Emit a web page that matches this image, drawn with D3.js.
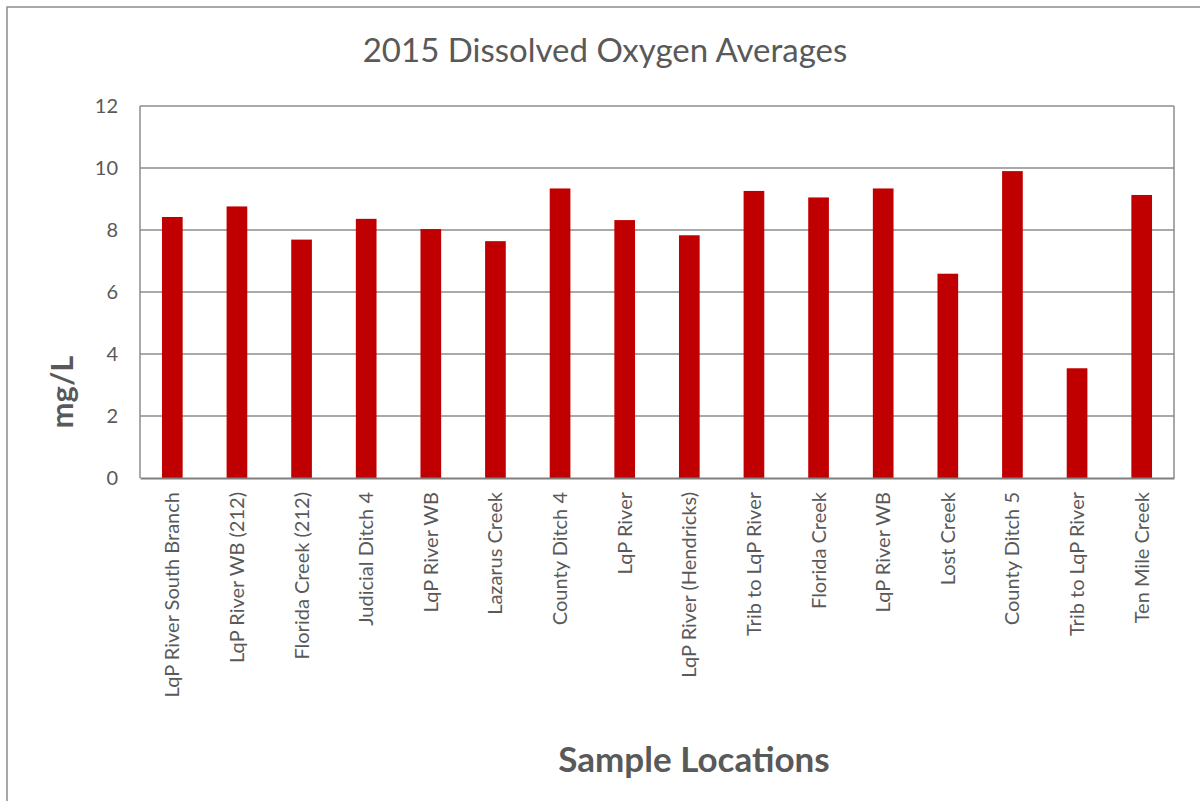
<!DOCTYPE html>
<html>
<head>
<meta charset="utf-8">
<script src="https://cdn.jsdelivr.net/npm/d3@7"></script>
<style>
  body { margin: 0; background: #fff; }
  svg { display: block; }
</style>
</head>
<body>
<div id="chart"></div>
<script>
// data
var locations = ["LqP River South Branch", "LqP River WB (212)", "Florida Creek (212)", "Judicial Ditch 4",
  "LqP River WB", "Lazarus Creek", "County Ditch 4", "LqP River", "LqP River (Hendricks)",
  "Trib to LqP River", "Florida Creek", "LqP River WB", "Lost Creek", "County Ditch 5",
  "Trib to LqP River", "Ten Mile Creek"];
var doValues = [8.42, 8.76, 7.69, 8.36, 8.03, 7.64, 9.34, 8.32, 7.83, 9.26, 9.05, 9.34, 6.59, 9.90, 3.54, 9.13];
var yTicks = [0, 2, 4, 6, 8, 10, 12];

var w = 1200, h = 801;
var plotL = 140, plotR = 1174, plotT = 106, plotB = 478;
var font = "Lato, 'Open Sans', sans-serif";
var textCol = "#595959";

const svg = d3.select("#chart").append("svg")
  .attr("width", w)
  .attr("height", h);

//OUTER CHART BORDER (right and bottom run off the picture)
svg.append("rect")
  .attr("x", 7).attr("y", 7)
  .attr("width", w + 20).attr("height", h + 20)
  .attr("fill", "none")
  .attr("stroke", "#8c8c8c")
  .attr("stroke-width", 1.5);

// keys by index since some names repeat
var x = d3.scaleBand()
  .domain(d3.range(locations.length))
  .range([plotL, plotR])
  .paddingInner(0.68)
  .paddingOuter(0.34);

var y = d3.scaleLinear()
  .domain([0, 12])
  .range([plotB, plotT]);

//GRIDLINES
svg.append("g")
  .selectAll("line")
  .data(yTicks.filter(function(d){ return d > 0; }))
  .join("line")
  .attr("x1", plotL).attr("x2", plotR)
  .attr("y1", function(d){ return y(d); })
  .attr("y2", function(d){ return y(d); })
  .attr("stroke", "#8c8c8c")
  .attr("stroke-width", 1.5);

//SIDE BORDERS OF THE PLOT
svg.append("line")
  .attr("x1", plotL).attr("x2", plotL)
  .attr("y1", plotT).attr("y2", plotB)
  .attr("stroke", "#8c8c8c").attr("stroke-width", 1.5);
svg.append("line")
  .attr("x1", plotR).attr("x2", plotR)
  .attr("y1", plotT).attr("y2", plotB)
  .attr("stroke", "#8c8c8c").attr("stroke-width", 1.5);

//BARS
svg.append("g")
  .selectAll("rect")
  .data(doValues)
  .join("rect")
  .attr("x", function(d, i){ return x(i); })
  .attr("y", function(d){ return y(d); })
  .attr("width", x.bandwidth())
  .attr("height", function(d){ return y(0) - y(d); })
  .attr("fill", "#c00000");

//Y AXIS
var yAxis = svg.append("g")
  .attr("transform", "translate(" + plotL + ",0)")
  .call(d3.axisLeft(y).tickValues(yTicks).tickSize(0).tickPadding(22));
yAxis.select(".domain").remove();
yAxis.selectAll("text")
  .attr("font-family", font)
  .attr("font-size", 20)
  .attr("fill", textCol);

//X AXIS
var xAxis = svg.append("g")
  .attr("transform", "translate(0," + plotB + ")")
  .call(d3.axisBottom(x).tickSize(0).tickFormat(function(i){ return locations[i]; }));
xAxis.select(".domain")
  .attr("stroke", "#7f7f7f")
  .attr("stroke-width", 2);
xAxis.selectAll("text")
  .attr("font-family", font)
  .attr("font-size", 20)
  .attr("fill", textCol)
  .attr("text-anchor", "end")
  .attr("dy", "0.35em")
  .attr("transform", "translate(0,14) rotate(-90)")
  .attr("y", 0)
  .attr("x", 0);

//TITLES
svg.append("text")
  .attr("x", 605).attr("y", 62)
  .attr("text-anchor", "middle")
  .attr("font-family", font)
  .attr("font-size", 33)
  .attr("fill", textCol)
  .text("2015 Dissolved Oxygen Averages");

svg.append("text")
  .attr("transform", "translate(73,392) rotate(-90)")
  .attr("text-anchor", "middle")
  .attr("font-family", font)
  .attr("font-size", 31)
  .attr("font-weight", "bold")
  .attr("fill", textCol)
  .text("mg/L");

svg.append("text")
  .attr("x", 694).attr("y", 772)
  .attr("text-anchor", "middle")
  .attr("font-family", font)
  .attr("font-size", 35)
  .attr("font-weight", "bold")
  .attr("fill", textCol)
  .text("Sample Locations");
</script>
</body>
</html>
